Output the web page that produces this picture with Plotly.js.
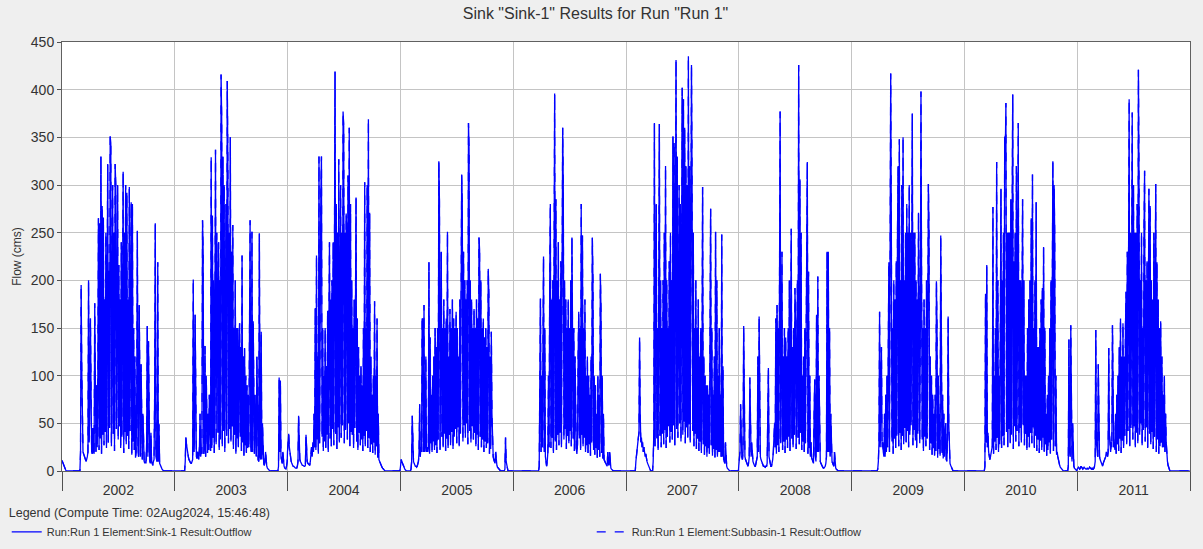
<!DOCTYPE html>
<html>
<head>
<meta charset="utf-8">
<script src="https://cdn.plot.ly/plotly-3.0.1.min.js"></script>
<style>html,body{margin:0;padding:0;background:#efefef;width:1203px;height:549px;overflow:hidden;}#chart{width:1191px;height:549px;}</style>
</head>
<body>
<div id="chart"></div>
<script>
// Outflow (cms), one value every 2 days starting 1 Jan of each year
const years = [2002, 2003, 2004, 2005, 2006, 2007, 2008, 2009, 2010, 2011];
const stepDays = 2;

const flow2002 = [
  11,9,7,5,3,2,1,0,0,0,0,0,0,0,0,
  0,0,0,0,0,0,0,0,0,0,0,0,0,0,0,
  20,195,107,25,20,18,15,13,12,10,12,15,20,200,30,
  70,160,25,20,18,45,20,18,176,25,20,90,25,100,265,
  22,260,34,330,18,278,38,266,27,180,41,250,24,220,322,
  30,210,45,351,344,26,230,300,39,250,21,322,301,44,200,
  300,33,216,47,180,24,240,36,200,314,19,250,41,300,28,
  292,37,180,23,298,42,220,282,17,280,31,150,22,120,14,
  20,80,252,20,15,174,20,15,112,15,12,60,12,10,8,
  10,8,30,152,15,136,12,10,8,40,10,8,6,10,12,
  80,260,15,12,10,219,10,49,8,6,4,3,2,1,0,
  0,0,0,0,0,0,0,0,0,0,0,0,0,0,0,
  0,0,0
];
const flow2003 = [
  0,0,0,0,0,0,0,0,0,0,0,0,0,0,0,
  0,0,10,35,28,22,18,15,12,10,9,8,8,10,12,
  201,20,30,164,20,15,13,20,15,12,25,60,15,20,18,
  263,230,18,24,131,15,100,27,19,60,22,80,28,21,329,
  24,268,35,200,19,150,337,28,250,180,40,240,22,200,33,
  416,370,26,330,42,300,20,250,280,37,409,323,29,250,44,
  350,31,230,47,258,23,150,38,200,18,150,34,150,25,120,
  155,36,130,21,226,30,120,16,129,27,100,19,90,24,80,
  25,181,263,25,20,251,20,157,20,18,80,18,15,120,15,
  12,10,249,15,12,146,12,50,10,8,6,10,20,8,5,
  3,2,1,0,0,0,0,0,0,0,0,0,0,0,0,
  0,0,0,5,98,20,95,15,10,8,20,8,5,3,2,
  2,5,10
];
const flow2004 = [
  20,30,39,25,18,12,10,8,6,5,5,4,4,3,3,
  3,5,10,58,20,12,10,8,7,6,6,5,5,5,6,
  38,15,10,8,7,6,6,10,20,25,15,30,20,60,25,
  171,22,226,33,120,18,330,29,200,290,330,36,150,21,100,
  31,150,24,110,38,168,20,150,240,34,180,26,200,44,240,
  27,240,419,39,280,23,250,46,327,30,260,300,35,250,48,
  377,362,29,250,43,270,250,33,310,50,360,26,280,41,200,
  38,150,24,180,45,200,287,31,160,22,130,40,100,27,110,
  33,90,21,150,37,303,26,150,42,300,24,369,35,271,20,
  120,28,80,19,100,30,178,17,100,26,160,14,60,12,10,
  8,6,5,4,3,2,1,0,0,0,0,0,0,0,0,
  0,0,0,0,0,0,0,0,0,0,0,0,0,0,0,
  0,0,0
];
const flow2005 = [
  5,12,10,8,6,4,3,2,1,0,0,0,0,0,0,
  0,0,2,10,58,15,10,8,6,5,5,4,5,8,10,
  20,70,15,25,20,160,159,20,174,20,25,120,20,25,20,
  24,219,18,140,29,80,20,100,31,120,22,150,27,130,19,
  150,33,325,284,22,200,230,36,150,25,180,39,150,21,160,
  34,251,24,120,38,170,27,150,41,180,23,160,36,150,44,
  167,29,150,46,120,26,180,39,160,311,278,31,230,48,200,
  35,180,50,200,28,365,337,42,200,30,180,47,150,33,170,
  40,150,26,180,38,160,22,245,232,36,200,25,150,33,160,
  20,140,31,150,24,130,29,212,185,18,120,23,146,60,20,
  15,12,10,8,20,8,6,4,3,2,1,0,0,0,0,
  0,0,0,0,2,35,10,5,2,0,0,0,0,0,0,
  0,0,0
];
const flow2006 = [
  0,0,0,0,0,0,0,0,0,0,0,0,0,0,0,
  0,0,0,0,0,0,0,0,0,0,0,0,0,0,0,
  0,0,0,0,0,0,0,0,0,0,0,0,5,60,181,
  20,100,25,90,225,20,150,15,8,5,10,20,100,25,200,
  280,24,180,35,200,19,250,396,31,285,22,200,38,240,27,
  180,40,220,25,200,360,296,33,200,44,180,23,150,37,180,
  29,150,42,200,26,245,160,34,150,21,120,30,24,18,28,
  120,167,34,150,22,280,38,247,26,150,35,180,20,100,27,
  120,19,100,28,80,16,120,30,245,200,22,100,17,90,24,
  60,14,100,22,80,15,207,170,19,100,13,60,12,10,8,
  7,6,5,20,8,6,20,5,3,2,1,0,0,0,0,
  0,0,0,0,0,0,0,0,0,0,0,0,0,0,0,
  0,0,0
];
const flow2007 = [
  0,0,0,0,0,0,0,0,0,0,0,0,0,0,0,
  0,10,18,25,30,35,40,140,60,30,35,25,30,20,25,
  20,15,18,12,10,8,6,4,2,0,0,0,0,0,10,
  40,365,26,200,280,34,150,22,180,364,37,200,25,150,39,
  200,28,250,43,320,24,200,36,150,47,220,30,250,41,200,
  33,351,48,344,27,250,431,44,330,35,250,300,50,280,31,
  300,402,38,390,52,360,29,320,46,300,35,435,49,320,30,
  280,426,300,42,250,26,150,39,200,23,150,34,180,21,120,
  31,150,19,100,298,28,120,17,100,26,90,15,90,24,80,
  18,100,275,27,150,16,80,23,120,14,251,22,200,15,100,
  20,150,20,80,15,248,15,110,12,10,8,30,8,5,3,
  2,1,0,0,0,0,0,0,0,0,0,0,0,0,0,
  0,0,0
];
const flow2008 = [
  5,10,20,70,20,15,12,20,152,20,15,12,10,8,6,
  5,8,15,98,25,15,30,15,10,8,6,5,5,8,10,
  15,120,20,162,20,15,12,10,8,6,5,5,4,4,5,
  5,8,50,108,15,10,8,5,5,8,12,20,30,50,25,
  160,18,174,27,150,20,237,377,29,150,230,22,120,31,150,
  19,140,33,120,24,150,36,200,21,150,254,34,130,25,150,
  38,192,160,23,150,200,35,426,28,306,40,250,22,100,31,
  120,20,150,29,120,250,324,18,209,24,100,15,30,14,12,
  10,8,60,96,15,10,164,20,204,20,100,15,10,8,6,
  5,4,3,3,4,5,8,15,230,20,230,20,150,15,60,
  12,10,8,6,5,20,4,3,2,1,0,0,0,0,0,
  0,0,0,0,0,0,0,0,0,0,0,0,0,0,0,
  0,0,0
];
const flow2009 = [
  0,0,0,0,0,0,0,0,0,0,0,0,0,0,0,
  0,0,0,0,0,0,0,0,0,0,0,0,0,0,0,
  0,0,0,0,0,0,0,0,0,0,0,0,2,10,30,
  167,25,60,130,25,30,20,15,60,15,80,20,100,25,120,
  219,20,150,417,265,31,150,18,200,34,180,24,220,37,250,
  320,26,348,40,200,22,300,37,350,28,200,45,250,30,280,
  42,250,25,300,38,250,48,374,375,27,250,43,250,32,200,
  24,180,39,271,180,29,150,398,200,33,150,21,180,36,150,
  26,200,34,150,301,251,22,120,29,100,17,80,24,60,16,
  80,21,199,150,14,100,23,60,16,247,150,19,80,13,60,
  15,30,50,12,10,40,162,50,10,8,6,4,2,1,0,
  0,0,0,0,0,0,0,0,0,0,0,0,0,0,0,
  0,0,0
];
const flow2010 = [
  0,0,0,0,0,0,0,0,0,0,0,0,0,0,0,
  0,0,0,0,0,0,0,0,0,0,0,0,0,0,0,
  0,0,0,5,186,30,216,25,40,20,15,12,15,20,20,
  26,277,18,100,31,150,22,324,35,200,20,100,28,150,296,
  24,200,37,250,27,351,334,386,41,250,25,250,44,250,29,
  285,38,250,395,23,220,47,250,31,320,42,250,365,26,200,
  45,200,30,250,285,48,200,27,100,39,100,22,150,36,180,
  25,200,40,265,29,311,46,150,24,200,37,282,21,130,33,
  130,19,150,32,180,22,192,35,235,20,150,28,60,16,80,
  22,100,30,150,18,200,33,150,325,21,300,250,26,100,17,
  20,15,10,8,6,4,3,2,1,0,0,0,0,0,0,
  0,0,0,5,138,20,15,153,20,10,50,8,5,3,2,
  1,0,0
];
const flow2011 = [
  2,3,4,3,2,3,5,4,3,2,3,4,3,2,2,
  2,3,2,2,3,4,3,2,2,3,2,2,3,5,10,
  148,30,20,15,112,20,15,12,10,8,6,5,8,10,10,
  12,15,20,18,15,20,129,40,25,20,30,25,153,60,25,
  30,22,60,18,80,28,100,21,130,34,160,19,120,32,155,
  24,120,37,150,188,28,230,42,200,390,26,250,45,250,376,
  33,300,47,250,25,250,40,280,29,421,300,38,200,50,250,
  27,150,43,250,315,31,200,46,220,24,250,296,39,278,28,
  200,41,180,23,250,36,200,301,20,219,33,180,18,150,26,
  157,30,120,25,80,25,100,20,60,30,15,10,6,3,1,
  0,0,0,0,0,0,0,0,0,0,0,0,0,0,0,
  0,0,0,0,0,0,0,0,0,0,0,0,0,0,0,
  0,0,0
];
const flowByYear = [flow2002, flow2003, flow2004, flow2005, flow2006,
                    flow2007, flow2008, flow2009, flow2010, flow2011];

const chartTitle = 'Sink "Sink-1" Results for Run "Run 1"';
const yTitle = 'Flow (cms)';
const legendTitle = 'Legend (Compute Time: 02Aug2024, 15:46:48)';
const seriesNames = ['Run:Run 1 Element:Sink-1 Result:Outflow',
                     'Run:Run 1 Element:Subbasin-1 Result:Outflow'];

// Build the time series
const xs = [], ys = [];
years.forEach((yr, k) => {
  flowByYear[k].forEach((v, i) => {
    const d = new Date(Date.UTC(yr, 0, 1 + stepDays * i));
    if (d.getUTCFullYear() !== yr) return;
    xs.push(d.toISOString().slice(0, 10));
    ys.push(v);
  });
});

const lineColor = '#0000ff';
const traces = [
  {x: xs, y: ys, type: 'scatter', mode: 'lines', name: seriesNames[0],
   line: {color: lineColor, width: 1.3}},
  {x: xs, y: ys, type: 'scatter', mode: 'lines', name: seriesNames[1],
   line: {color: lineColor, width: 1.3, dash: 'dash'}}
];

const font = 'Liberation Sans, Arial, sans-serif';
const layout = {
  width: 1191, height: 549,
  paper_bgcolor: '#efefef', plot_bgcolor: '#ffffff',
  margin: {l: 62, r: 1, t: 42, b: 78},
  font: {family: font, size: 12, color: '#333333'},
  title: {text: chartTitle, x: 0.5, xanchor: 'center', y: 0.975, yanchor: 'middle',
          font: {family: font, size: 16, color: '#333333'}},
  showlegend: true,
  legend: {
    orientation: 'h',
    x: -0.049, xanchor: 'left', y: -0.070, yanchor: 'top',
    bgcolor: 'rgba(0,0,0,0)',
    title: {text: legendTitle, side: 'top', font: {family: font, size: 12.5, color: '#333333'}},
    font: {family: font, size: 11, color: '#333333'},
    entrywidth: 540, entrywidthmode: 'pixels', tracegroupgap: 0
  },
  xaxis: {
    type: 'date', range: ['2002-01-01', '2012-01-01'],
    tick0: '2002-01-01', dtick: 'M12', tickformat: '%Y', ticklabelmode: 'period',
    ticks: 'outside', ticklen: 19, tickwidth: 1, tickcolor: '#505050',
    ticklabelstandoff: -13,
    tickfont: {family: font, size: 14, color: '#333333'},
    showgrid: true, gridcolor: '#c4c4c4', gridwidth: 1,
    showline: true, linecolor: '#606060', linewidth: 1, mirror: true,
    zeroline: false, fixedrange: true
  },
  yaxis: {
    range: [0, 450], dtick: 50, tick0: 0,
    ticks: 'outside', ticklen: 4, tickcolor: '#505050',
    tickfont: {family: font, size: 14, color: '#333333'},
    showgrid: true, gridcolor: '#c4c4c4', gridwidth: 1,
    showline: true, linecolor: '#606060', linewidth: 1, mirror: true,
    zeroline: false, fixedrange: true,
    title: {text: yTitle, font: {family: font, size: 12, color: '#333333'}, standoff: 6}
  }
};

Plotly.newPlot('chart', traces, layout, {staticPlot: true, displayModeBar: false});
</script>
</body>
</html>
